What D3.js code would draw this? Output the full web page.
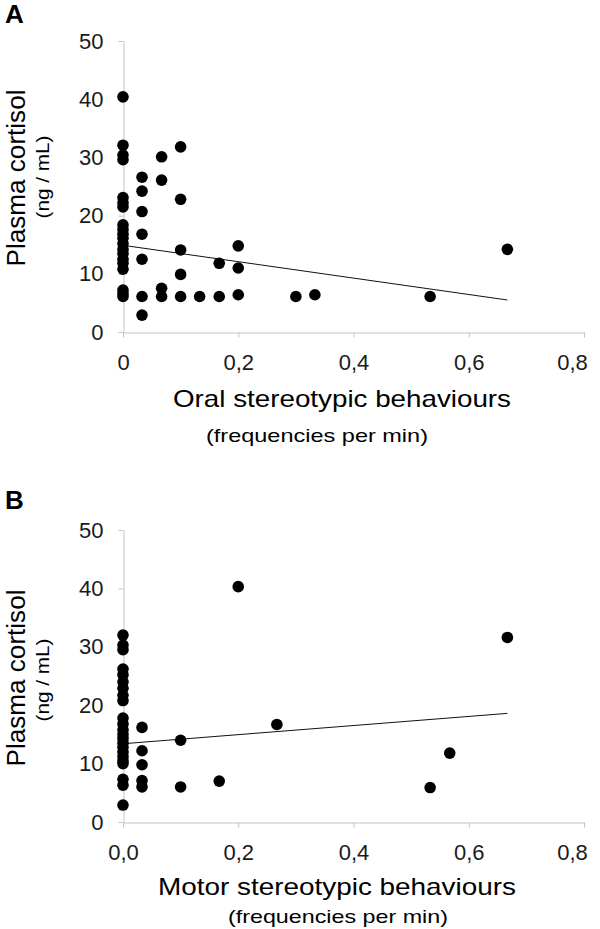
<!DOCTYPE html>
<html><head><meta charset="utf-8">
<script src="https://cdn.jsdelivr.net/npm/d3@7"></script>
<style>
html,body{margin:0;padding:0;background:#fff;}
svg{display:block;font-family:"Liberation Sans",Arial,sans-serif;}
</style></head>
<body>
<svg id="chart" width="600" height="929"></svg>
<script>
// ---- data ----
const oralX = [0,0,0,0,0,0,0,0,0,0,0,0,0,0,0,0,0,0,0,0,
  0.033,0.033,0.033,0.033,0.033,0.033,0.033,
  0.067,0.067,0.067,0.067,
  0.1,0.1,0.1,0.1,0.1,
  0.133,
  0.167,0.167,
  0.2,0.2,0.2,
  0.3,0.333,0.533,0.667];
const oralY = [40.4,32.1,30.4,29.6,23.1,22.2,21.5,18.4,17.6,16.8,16.1,15.2,14.2,13.5,12.5,11.8,10.8,7.2,6.6,6.1,
  26.6,24.2,20.7,16.8,12.5,6.1,2.9,
  30.1,26.1,7.5,6.1,
  31.8,22.8,14.1,9.9,6.1,
  6.1,
  11.8,6.1,
  14.8,11.0,6.4,
  6.1,6.4,6.1,14.2];
const motorX = [0,0,0,0,0,0,0,0,0,0,0,0,0,0,0,0,0,0,0,0,0,0,0,
  0.033,0.033,0.033,0.033,0.033,
  0.1,0.1,
  0.167,0.2,0.267,0.533,0.567,0.667];
const motorY = [32.0,30.3,29.5,26.2,25.2,24.0,22.9,21.7,20.8,17.8,16.8,15.8,15.0,14.3,13.5,12.8,12.0,11.2,10.5,10.0,7.3,6.3,2.9,
  16.2,12.2,9.8,7.1,6.0,
  14.0,6.0,
  7.0,40.3,16.7,5.9,11.8,31.6];
const trendAX = [0,0.667], trendAY = [14.9,5.5];
const trendBX = [0,0.667], trendBY = [13.4,18.6];
const yTicks = [0,10,20,30,40,50];
const xTicks = [0,0.2,0.4,0.6,0.8];
const xTickLabelsA = ["0","0,2","0,4","0,6","0,8"];
const xTickLabelsB = ["0,0","0,2","0,4","0,6","0,8"];

const svg = d3.select("#chart");
const axisColor = "#c4c4c4";

function panel(opt){
  const x = d3.scaleLinear().domain([0,0.8]).range([123,584]);
  const y = d3.scaleLinear().domain([0,50]).range([opt.y0,opt.y50]);
  const g = svg.append("g");
  // y axis
  const ya = g.append("g").attr("transform","translate(123.5,0)")
    .call(d3.axisLeft(y).tickValues(yTicks).tickFormat(d3.format("d")).tickSize(5).tickSizeOuter(0).tickPadding(15));
  // x axis
  const xa = g.append("g").attr("transform",`translate(0,${opt.y0+0.5})`)
    .call(d3.axisBottom(x).tickValues(xTicks).tickFormat((d,i)=>opt.xLabels[i]).tickSize(5).tickSizeOuter(0).tickPadding(17));
  [ya,xa].forEach(a=>{
    a.selectAll("path.domain").attr("stroke",axisColor);
    a.selectAll(".tick line").attr("stroke",axisColor);
    a.selectAll(".tick text").attr("fill","#1a1a1a").style("font-size","22px").style("font-family","'Liberation Sans',Arial,sans-serif");
  });
  // last x label is kept inside the frame (shifted left as in the original)
  xa.selectAll(".tick text").filter(d=>d===0.8).attr("dx",-12);
  // trend
  g.append("path")
    .attr("d", d3.line().x(d=>x(d[0])).y(d=>y(d[1]))(opt.tx.map((v,i)=>[v,opt.ty[i]])))
    .attr("stroke","#111").attr("stroke-width",1).attr("fill","none");
  // points
  g.selectAll("circle.pt").data(opt.xs.map((v,i)=>[v,opt.ys[i]])).enter()
    .append("circle").attr("class","pt")
    .attr("cx",d=>x(d[0])).attr("cy",d=>y(d[1])).attr("r",5.8).attr("fill","#000");
  // panel letter
  g.append("text").attr("x",5).attr("y",opt.letterY).text(opt.letter)
    .style("font-size","26px").style("font-weight","bold").attr("fill","#000");
  // y title
  g.append("text").attr("transform",`translate(25,${opt.yt1}) rotate(-90)`).attr("text-anchor","middle")
    .style("font-size","25px").attr("textLength",177).attr("lengthAdjust","spacingAndGlyphs").text("Plasma cortisol");
  g.append("text").attr("transform",`translate(49,${opt.yt2}) rotate(-90)`).attr("text-anchor","middle")
    .style("font-size","19px").attr("textLength",83).attr("lengthAdjust","spacingAndGlyphs").text("(ng / mL)");
  // x title
  g.append("text").attr("x",opt.xt1x).attr("y",opt.xt1y).attr("text-anchor","middle")
    .style("font-size","24px").attr("textLength",opt.xt1w).attr("lengthAdjust","spacingAndGlyphs").text(opt.xTitle);
  g.append("text").attr("x",opt.xt2x).attr("y",opt.xt2y).attr("text-anchor","middle")
    .style("font-size","19px").attr("textLength",opt.xt2w).attr("lengthAdjust","spacingAndGlyphs").text("(frequencies per min)");
}

panel({y0:332,y50:41,xLabels:xTickLabelsA,xs:oralX,ys:oralY,tx:trendAX,ty:trendAY,
  letter:"A",letterY:23,yt1:178,yt2:177,
  xTitle:"Oral stereotypic behaviours",xt1x:342,xt1y:407,xt1w:338,xt2x:317,xt2y:442,xt2w:222});
panel({y0:822,y50:530,xLabels:xTickLabelsB,xs:motorX,ys:motorY,tx:trendBX,ty:trendBY,
  letter:"B",letterY:509,yt1:678,yt2:680,
  xTitle:"Motor stereotypic behaviours",xt1x:337,xt1y:895,xt1w:358,xt2x:338,xt2y:923,xt2w:220});
</script>
</body></html>
